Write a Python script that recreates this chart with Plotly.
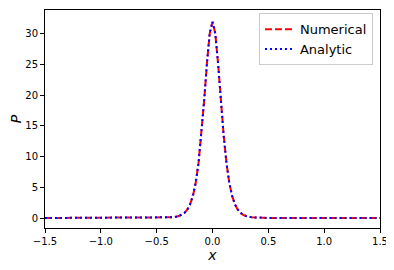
import plotly.graph_objects as go

# x samples and P values
x_vals = [-1.5, -1.0, -0.6, -0.5, -0.4, -0.35, -0.3, -0.275, -0.25, -0.225, -0.2,
          -0.175, -0.15, -0.125, -0.1, -0.075, -0.05, -0.025, 0.0,
          0.025, 0.05, 0.075, 0.1, 0.125, 0.15, 0.175, 0.2, 0.225, 0.25,
          0.275, 0.3, 0.35, 0.4, 0.5, 0.6, 1.0, 1.5]
p_numerical = [0.0, 0.0, 0.0, 0.006, 0.043, 0.117, 0.32, 0.52, 0.85, 1.39, 2.26,
               3.64, 5.78, 8.97, 13.44, 19.09, 25.17, 30.08, 32.0,
               30.08, 25.17, 19.09, 13.44, 8.97, 5.78, 3.64, 2.26, 1.39, 0.85,
               0.52, 0.32, 0.117, 0.043, 0.006, 0.0, 0.0, 0.0]
p_analytic = [0.0, 0.0, 0.0, 0.006, 0.043, 0.117, 0.32, 0.52, 0.85, 1.39, 2.26,
              3.64, 5.78, 8.97, 13.44, 19.09, 25.17, 30.08, 32.0,
              30.08, 25.17, 19.09, 13.44, 8.97, 5.78, 3.64, 2.26, 1.39, 0.85,
              0.52, 0.32, 0.117, 0.043, 0.006, 0.0, 0.0, 0.0]

x_ticks = [-1.5, -1.0, -0.5, 0.0, 0.5, 1.0, 1.5]
y_ticks = [0, 5, 10, 15, 20, 25, 30]

fig = go.Figure()

fig.add_scatter(
    x=x_vals, y=p_numerical, mode="lines", name="Numerical",
    line=dict(color="red", width=2, dash="7px,3px"),
)
fig.add_scatter(
    x=x_vals, y=p_analytic, mode="lines", name="Analytic",
    line=dict(color="blue", width=2, dash="2px,3px"),
)

axis_style = dict(
    showgrid=False, zeroline=False, showline=True, mirror=True,
    linecolor="black", linewidth=1, ticks="outside", ticklen=4,
    tickcolor="black", tickfont=dict(size=10, color="black"),
    automargin=False,
)

fig.update_xaxes(
    range=[-1.5, 1.5], tickvals=x_ticks, tickformat=".1f",
    title=dict(text="<i>x</i>", font=dict(size=14, color="black"), standoff=2),
    **axis_style,
)
fig.update_yaxes(
    range=[-1.63, 33.9], tickvals=y_ticks,
    title=dict(text="<i>P</i>", font=dict(size=14, color="black"), standoff=6),
    **axis_style,
)

# the page body adds an 8px offset, so the figure is sized/margined to compensate
fig.update_layout(
    width=386, height=262,
    margin=dict(l=37, r=14, t=2, b=42),
    paper_bgcolor="white", plot_bgcolor="white",
    font=dict(family="DejaVu Sans", color="black"),
    showlegend=True,
    legend=dict(
        x=0.979, y=0.985, xanchor="right", yanchor="top",
        bgcolor="rgba(255,255,255,0.8)", bordercolor="#ccc", borderwidth=1,
        font=dict(size=13), tracegroupgap=0, itemwidth=30,
    ),
)

fig.write_html("out.html")
